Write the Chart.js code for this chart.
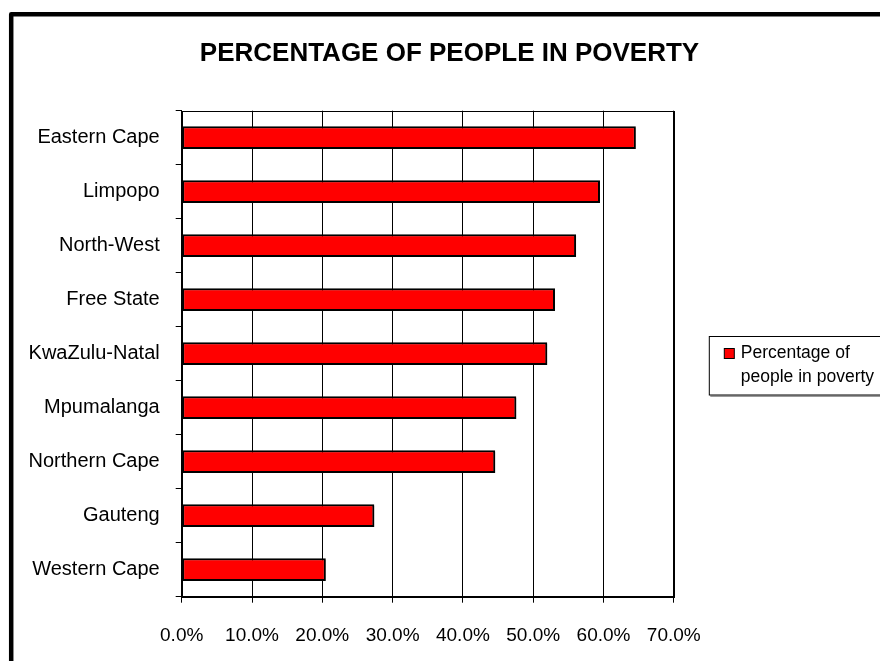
<!DOCTYPE html>
<html>
<head>
<meta charset="utf-8">
<script src="https://cdn.jsdelivr.net/npm/chart.js@4/dist/chart.umd.min.js"></script>
<style>
  html, body { margin: 0; padding: 0; background: #fff; }
  #wrap { width: 880px; height: 661px; position: relative; }
</style>
</head>
<body>
<div id="wrap"><canvas id="c" width="880" height="661"></canvas></div>
<script>
const categories = ["Eastern Cape", "Limpopo", "North-West", "Free State", "KwaZulu-Natal", "Mpumalanga", "Northern Cape", "Gauteng", "Western Cape"];
const povertyPct = [64.6, 59.5, 56.1, 53.1, 52.0, 47.6, 44.6, 27.4, 20.5];
const seriesLabel = "Percentage of people in poverty";
const chartTitle = "PERCENTAGE OF PEOPLE IN POVERTY";
const xTicks = [0, 10, 20, 30, 40, 50, 60, 70];

const FONT = '"Liberation Sans", Arial, Helvetica, sans-serif';

const framePlugin = {
  id: 'frame',
  beforeDraw(chart) {
    const ctx = chart.ctx;
    ctx.save();
    ctx.fillStyle = '#fff';
    ctx.fillRect(0, 0, chart.width, chart.height);
    ctx.strokeStyle = '#000';
    ctx.lineWidth = 4.5;
    ctx.lineJoin = 'round';
    ctx.beginPath();
    ctx.moveTo(11.2, chart.height + 20);
    ctx.lineTo(11.2, 14.2);
    ctx.lineTo(chart.width + 20, 14.2);
    ctx.stroke();
    ctx.restore();
  },
  beforeDatasetsDraw(chart) {
    const ctx = chart.ctx, a = chart.chartArea;
    ctx.save();
    ctx.strokeStyle = '#000';
    ctx.lineWidth = 1;
    ctx.strokeRect(Math.round(a.left) + 0.5, Math.round(a.top) + 0.5, Math.round(a.right - a.left), Math.round(a.bottom - a.top));
    ctx.restore();
    ctx.save();
    ctx.shadowColor = 'rgba(0,0,0,0.3)';
    ctx.shadowOffsetX = 1.5;
    ctx.shadowOffsetY = 1.5;
    ctx.shadowBlur = 0;
  },
  afterDatasetsDraw(chart) {
    chart.ctx.restore();
  },
  afterDraw(chart) {
    const ctx = chart.ctx, a = chart.chartArea;
    const bx = a.right + 35.5, by = 336.5;
    ctx.save();
    ctx.fillStyle = '#9a9a9a';
    ctx.fillRect(bx + 1, by + 59, 300, 1.5);
    ctx.fillStyle = '#fff';
    ctx.fillRect(bx, by, 300, 58.5);
    ctx.strokeStyle = '#000';
    ctx.lineWidth = 1;
    ctx.strokeRect(bx, by, 300, 58.5);
    ctx.fillStyle = '#ff0000';
    ctx.fillRect(bx + 15, by + 12, 10, 10);
    ctx.strokeRect(bx + 15, by + 12, 10, 10);
    ctx.font = '17.5px ' + FONT;
    ctx.fillStyle = '#000';
    ctx.textBaseline = 'middle';
    ctx.textAlign = 'left';
    const words = chart.data.datasets[0].label.split(' ');
    const lines = [words.slice(0, 2).join(' '), words.slice(2).join(' ')];
    lines.forEach((l, i) => ctx.fillText(l, bx + 31.5, by + 17 + i * 23.5));
    ctx.restore();
  }
};

new Chart(document.getElementById('c'), {
  type: 'bar',
  data: {
    labels: categories,
    datasets: [{
      label: seriesLabel,
      data: povertyPct,
      backgroundColor: '#ff0000',
      borderColor: '#000',
      borderWidth: 2,
      borderSkipped: false,
      barPercentage: 0.42,
      categoryPercentage: 1.0
    }]
  },
  options: {
    indexAxis: 'y',
    responsive: false,
    animation: false,
    devicePixelRatio: 1,
    layout: { padding: { left: 19, right: 0, top: 0, bottom: 0 } },
    plugins: {
      legend: { display: false },
      tooltip: { enabled: false },
      title: {
        display: true,
        text: chartTitle,
        color: '#000',
        font: { family: FONT, size: 26, weight: 'bold', lineHeight: 1.2 },
        padding: { top: 38, bottom: 41.5 }
      }
    },
    scales: {
      x: {
        type: 'linear',
        min: 0,
        max: 70,
        afterBuildTicks(s) { s.ticks = xTicks.map(v => ({ value: v })); },
        afterFit(s) { s.height = 64.3; },
        grid: { color: '#000', lineWidth: 1, drawTicks: true, tickLength: 6, tickColor: '#000' },
        border: { display: true, color: '#000', width: 1 },
        ticks: {
          color: '#000',
          padding: 22,
          maxRotation: 0,
          font: { family: FONT, size: 19 },
          callback: v => Number(v).toFixed(1) + '%'
        }
      },
      y: {
        type: 'category',
        afterFit(s) { s.width = 162.7; },
        grid: { display: true, drawOnChartArea: false, drawTicks: true, tickLength: 6, color: '#000', offset: true },
        border: { display: true, color: '#000', width: 1 },
        ticks: {
          color: '#000',
          padding: 16,
          font: { family: FONT, size: 20 }
        }
      },
      yRight: {
        type: 'linear',
        position: 'right',
        display: true,
        afterFit(s) { s.width = 206.2; },
        grid: { display: false },
        border: { display: false },
        ticks: { display: false }
      }
    }
  },
  plugins: [framePlugin]
});
</script>
</body>
</html>
